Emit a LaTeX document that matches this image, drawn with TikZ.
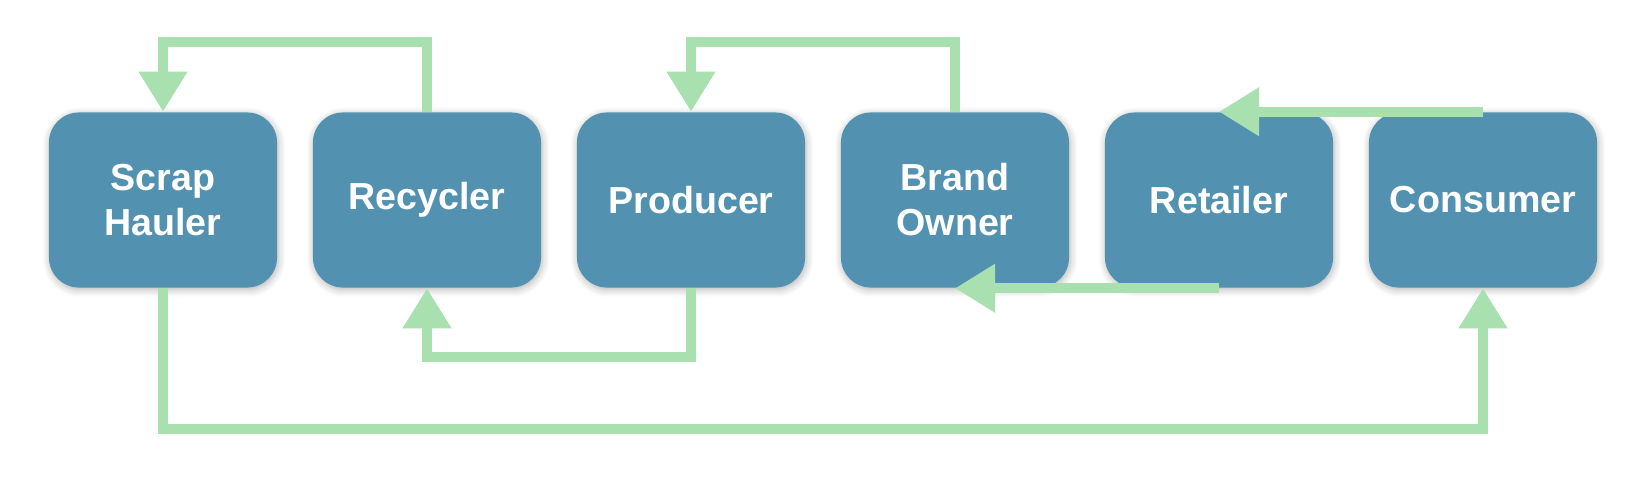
\documentclass[tikz,border=0pt]{standalone}
\usepackage{fontspec}
\setmainfont{Liberation Sans}
\usetikzlibrary{arrows.meta,shadows.blur}
\definecolor{boxc}{RGB}{82,146,176}
\definecolor{arr}{RGB}{168,224,176}
\begin{document}
\begin{tikzpicture}[x=0.01cm,y=-0.01cm,
  box/.style={draw=none,fill=boxc,rounded corners=0.3cm,minimum width=2.28cm,minimum height=1.75cm,
    text=white,font=\fontsize{10.7}{12.8}\selectfont\bfseries,align=center,
    blur shadow={shadow xshift=0.3pt,shadow yshift=-0.6pt,shadow blur steps=6,shadow opacity=30}},
  flow/.style={draw=arr,line width=0.1cm,-{Triangle[width=0.46cm,length=0.4cm]}}]
\useasboundingbox (0,0) rectangle (1639,482);
\node[box] (sh)  at (163,200) {Scrap\\Hauler};
\node[box] (rec) at (427,200) {Recycler};
\node[box] (pro) at (691,200) {Producer};
\node[box] (bo)  at (955,200) {Brand\\Owner};
\node[box] (ret) at (1219,200) {Retailer};
\node[box] (con) at (1483,200) {Consumer};
\draw[flow] (rec.north) -- ++(0,-70) -| (sh.north);
\draw[flow] (bo.north) -- ++(0,-70) -| (pro.north);
\draw[flow] (con.north) -- (ret.north);
\draw[flow] (ret.south) -- (bo.south);
\draw[flow] (pro.south) -- ++(0,69) -| (rec.south);
\draw[flow] (sh.south) -- ++(0,141) -| (con.south);
\end{tikzpicture}
\end{document}
